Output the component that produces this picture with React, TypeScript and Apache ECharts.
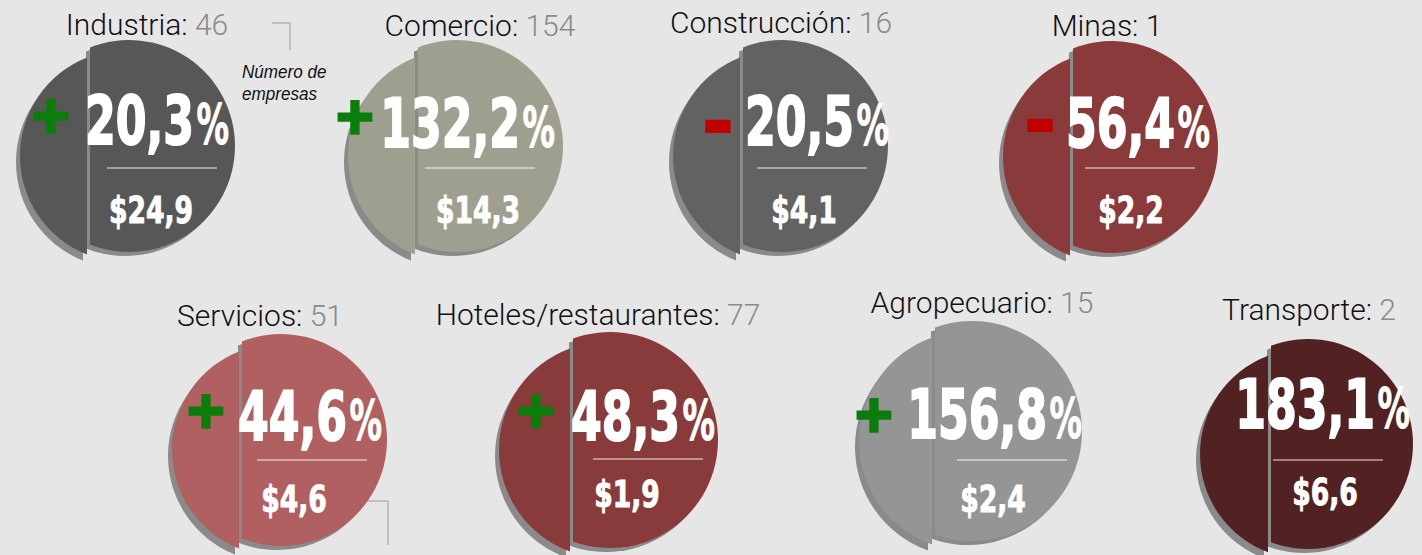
import React, { useEffect, useRef } from 'react';
import * as echarts from 'echarts';

// ---------- data ----------
const sectors = ['Industria', 'Comercio', 'Construcción', 'Minas', 'Servicios', 'Hoteles/restaurantes', 'Agropecuario', 'Transporte'];
const companies = [46, 154, 16, 1, 51, 77, 15, 2];
const changePct = [20.3, 132.2, -20.5, -56.4, 44.6, 48.3, 156.8, 183.1];
const signs = ['+', '+', '-', '-', '+', '+', '+', ''];
const amounts = [24.9, 14.3, 4.1, 2.2, 4.6, 1.9, 2.4, 6.6];
const noteText = 'Número de\nempresas';

// ---------- styles ----------
const fills = ['#575757', '#9f9f8f', '#626262', '#8a3a3a', '#b06060', '#893a3a', '#959595', '#522121'];
const countColors = ['#8a8a8a', '#8a8a8a', '#8a8a8a', '#111111', '#8a8a8a', '#8a8a8a', '#8a8a8a', '#8a8a8a'];
const BG = '#e6e6e6';
const SHADOW = '#8a8a8a';

// ---------- layout (px) ----------
// [splitX, cx, cy, R, titleX, titleBase, pctRight, pctBase, signX, signY, lineX0, lineY, valX, valBase]
const layout = [
  [90, 129, 146, 106, 147, 34, 227, 144, 51, 115, 107, 168, 151, 223],
  [418, 457, 146, 106, 480, 35, 553, 147, 355, 116, 425, 168, 478, 223],
  [743, 782, 146, 106, 781, 32, 887, 145, 718, 122, 757, 168, 804, 223],
  [1073, 1112, 147, 106, 1107, 35, 1208, 147, 1040, 121, 1085, 168, 1131, 223],
  [242, 281, 440, 106, 260, 325, 380, 440, 206, 410, 257, 460, 294, 512],
  [573, 610, 440, 108, 598, 324, 713, 440, 536, 410, 593, 459, 627, 507],
  [935, 972, 431, 110, 982, 312, 1080, 438, 874, 414, 957, 460, 993, 512],
  [1271, 1308, 444, 105, 1309, 319, 1408, 428, 0, 0, 1273, 460, 1325, 505],
];

const fmt = (v: number) => Math.abs(v).toFixed(1).replace('.', ',');

function segPath(sx: number, cx: number, cy: number, R: number, major: boolean) {
  const h = Math.sqrt(R * R - (cx - sx) * (cx - sx));
  const f = major ? 1 : 0;
  return `M${sx},${cy - h} A${R},${R} 0 ${f} ${f} ${sx},${cy + h} Z`;
}

const BIG_FONT = '"DejaVu Sans", sans-serif';

function renderItem(params: any) {
  const i = params.dataIndex;
  const [sx, cx, cy, R, tX, tB, pR, pB, sgX, sgY, lX0, lY, vX, vB] = layout[i];
  const right = segPath(sx, cx, cy, R, true);
  const left = segPath(sx, cx, cy, R, false);
  const ldx = -3, ldy = 10;
  const children: any[] = [
    { type: 'path', x: -4, y: 4, shape: { pathData: right }, style: { fill: SHADOW } },
    { type: 'path', shape: { pathData: right }, style: { fill: fills[i] } },
    { type: 'path', x: ldx - 4, y: ldy + 6, shape: { pathData: left }, style: { fill: SHADOW } },
    { type: 'path', x: ldx, y: ldy, shape: { pathData: left }, style: { fill: fills[i] } },
    {
      type: 'text', x: tX, y: tB - 10,
      style: {
        text: `{a|${sectors[i]}: }{b|${companies[i]}}`,
        align: 'center', verticalAlign: 'middle',
        rich: {
          a: { fontFamily: 'Roboto', fontWeight: 300, fontSize: 30, fill: '#111111' },
          b: { fontFamily: 'Roboto', fontWeight: 300, fontSize: 30, fill: countColors[i] },
        },
      },
    },
    {
      type: 'text', x: pR - 33, y: pB - 24, scaleX: 0.66,
      style: {
        text: fmt(changePct[i]), fill: '#ffffff', stroke: '#ffffff', lineWidth: 2,
        fontFamily: BIG_FONT, fontWeight: 'bold', fontSize: 67,
        align: 'right', verticalAlign: 'middle',
      },
    },
    {
      type: 'text', x: pR + 2, y: pB - 20, scaleX: 0.58,
      style: {
        text: '%', fill: '#ffffff', stroke: '#ffffff', lineWidth: 1,
        fontFamily: BIG_FONT, fontWeight: 'bold', fontSize: 56,
        align: 'right', verticalAlign: 'middle',
      },
    },
    {
      type: 'line',
      shape: { x1: lX0, y1: lY, x2: lX0 + 110, y2: lY },
      style: { stroke: 'rgba(255,255,255,0.6)', lineWidth: 1.5 },
    },
    {
      type: 'text', x: vX, y: vB - 13, scaleX: 0.72,
      style: {
        text: '$' + fmt(amounts[i]), fill: '#ffffff', stroke: '#ffffff', lineWidth: 1,
        fontFamily: BIG_FONT, fontWeight: 'bold', fontSize: 37,
        align: 'center', verticalAlign: 'middle',
      },
    },
  ];
  if (signs[i]) {
    const plus = signs[i] === '+';
    const col = plus ? '#0b7d0b' : '#c00000';
    children.push({
      type: 'text', x: sgX, y: sgY, scaleX: plus ? 1 : 1.35, scaleY: plus ? 1 : 1.4,
      style: {
        text: signs[i], fill: col, stroke: col, lineWidth: plus ? 3.5 : 1.5,
        fontFamily: BIG_FONT, fontWeight: 'bold',
        fontSize: plus ? 50 : 56, align: 'center', verticalAlign: 'middle',
      },
    });
  }
  return { type: 'group', children };
}

export default function App() {
  const ref = useRef<HTMLDivElement>(null);
  useEffect(() => {
    if (!ref.current) return;
    const chart = echarts.init(ref.current, undefined, { renderer: 'svg' });
    chart.setOption({
      animation: false,
      backgroundColor: BG,
      series: [
        {
          type: 'custom',
          coordinateSystem: 'none',
          renderItem,
          data: changePct.map((v, i) => [i, v]),
          silent: true,
        },
      ],
      graphic: [
        {
          type: 'polyline',
          shape: { points: [[272, 23], [290, 23], [290, 50]] },
          style: { stroke: '#9a9a9a', lineWidth: 1, fill: 'none' },
        },
        {
          type: 'text', x: 242, y: 83, scaleX: 0.95,
          style: {
            text: noteText, fill: '#111111', fontFamily: '"Liberation Sans", Arial, sans-serif',
            fontStyle: 'italic', fontSize: 18, lineHeight: 22, align: 'left', verticalAlign: 'middle',
          },
        },
        {
          type: 'polyline',
          shape: { points: [[350, 501], [388, 501], [388, 545]] },
          style: { stroke: '#9a9a9a', lineWidth: 1, fill: 'none' },
        },
      ],
    });
    return () => chart.dispose();
  }, []);
  return <div ref={ref} style={{ position: 'absolute', left: 0, top: 0, width: 1422, height: 555 }} />;
}
